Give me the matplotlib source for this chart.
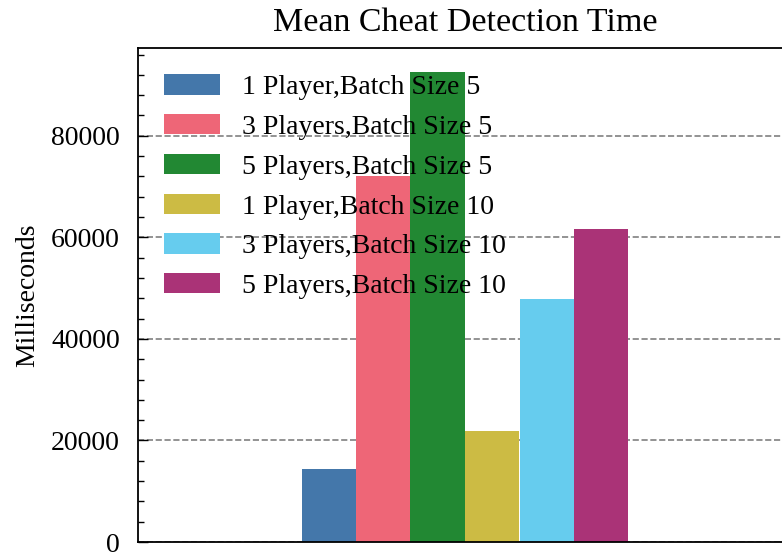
import matplotlib
matplotlib.use("Agg")
import matplotlib.pyplot as plt
from matplotlib.ticker import MultipleLocator

plt.rcParams['font.family'] = ['Liberation Serif', 'DejaVu Serif']

labels = ['1 Player,Batch Size 5', '3 Players,Batch Size 5', '5 Players,Batch Size 5',
          '1 Player,Batch Size 10', '3 Players,Batch Size 10', '5 Players,Batch Size 10']
values = [14400, 72100, 92650, 21900, 47800, 61600]
colors = ['#4477AA', '#EE6677', '#228833', '#CCBB44', '#66CCEE', '#AA3377']

fig = plt.figure(figsize=(7.82, 5.56), dpi=100)
ax = fig.add_axes([138/782, 14/556, 654/782, 494/556])

width = 0.1
for i, (lab, v, c) in enumerate(zip(labels, values, colors)):
    ax.bar((i - 2.5) * width, v, width, color=c, label=lab, zorder=2)

ax.set_xlim(-0.6, 0.6)
ax.set_ylim(0, max(values) * 1.05)
ax.set_xticks([])
ax.yaxis.set_major_locator(MultipleLocator(20000))
ax.yaxis.set_minor_locator(MultipleLocator(4000))
ax.tick_params(axis='y', which='both', direction='in', right=True, labelsize=20, pad=13)
ax.tick_params(axis='y', which='major', length=7, width=1)
ax.tick_params(axis='y', which='minor', length=4, width=1)
ax.grid(axis='y', linestyle='--', color='gray', linewidth=1.2, zorder=0)
ax.set_axisbelow(True)
for s in ax.spines.values():
    s.set_linewidth(1.3)

ax.set_ylabel('Milliseconds', fontsize=20, labelpad=8)
ax.set_title('Mean Cheat Detection Time', fontsize=24.5, pad=12)
ax.legend(loc='upper left', frameon=False, fontsize=20, handlelength=2.0,
          handleheight=0.75, labelspacing=0.5, borderaxespad=0.55)

fig.savefig('out.png', dpi=100)
